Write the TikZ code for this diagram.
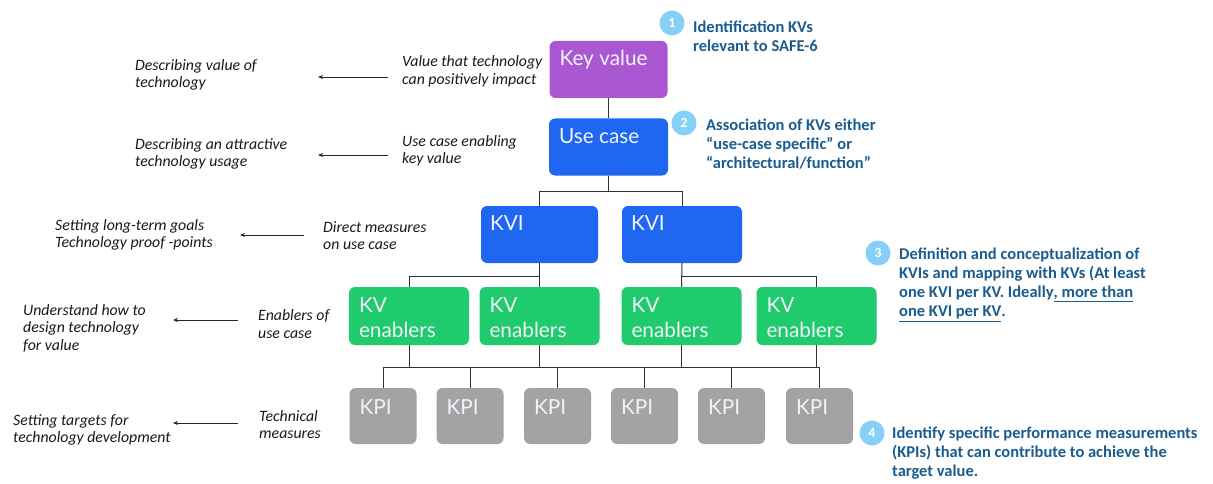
\documentclass[tikz,border=0pt]{standalone}
\usepackage{fontspec}
\setmainfont{Lato}
\newfontfamily\notefont{Carlito}
\usetikzlibrary{arrows.meta}

\definecolor{kvpurple}{HTML}{AA58D2}
\definecolor{ucblue}{HTML}{1F66F0}
\definecolor{engreen}{HTML}{1FCB6C}
\definecolor{kpigray}{HTML}{A3A3A3}
\definecolor{boxtext}{HTML}{F2F2FA}
\definecolor{notetext}{HTML}{1B5C8E}
\definecolor{stepcircle}{HTML}{86D0F7}
\definecolor{linkgray}{HTML}{333333}

\tikzset{
  box/.style={rounded corners=6pt, draw=none, inner sep=0pt},
  boxlabel/.style={anchor=north west, inner sep=0pt, text=boxtext, align=left,
    font=\fontsize{20.8}{25}\selectfont},
  kvbox/.style={box, fill=kvpurple, minimum width=118pt, minimum height=57pt},
  ucbox/.style={box, fill=ucblue, minimum height=57pt},
  enbox/.style={box, fill=engreen, minimum width=120pt, minimum height=58pt},
  kpibox/.style={box, fill=kpigray, minimum width=67pt, minimum height=56pt},
  link/.style={draw=linkgray, line width=1pt},
  sidearrow/.style={draw=black!85, line width=0.8pt, -{Stealth[length=5pt,width=4pt]}},
  sidetext/.style={anchor=west, inner sep=0pt, align=left, text=black!90,
    font=\notefont\itshape\fontsize{15.8}{17.5}\selectfont},
  notetext/.style={anchor=west, inner sep=0pt, align=left, text=notetext,
    font=\notefont\bfseries\fontsize{16.5}{19}\selectfont},
  stepmark/.style={circle, fill=stepcircle, minimum size=25pt, inner sep=0pt,
    text=white, font=\notefont\bfseries\fontsize{14}{14}\selectfont},
}

\begin{document}
\begin{tikzpicture}[x=1pt, y=-1pt]
\useasboundingbox (0,0) rectangle (1213,484);

% hierarchy boxes
\node[kvbox] (kv) at (608.5,69.5) {};
\node[boxlabel] (kvt) at ([xshift=10pt,yshift=-9pt]kv.north west) {Key value};
\node[ucbox, minimum width=119pt] (uc) at (608.5,147) {};
\node[boxlabel] (uct) at ([xshift=10pt,yshift=-10pt]uc.north west) {Use case};

\node[ucbox, minimum width=117pt] (kvi1) at (539.5,234.5) {};
\node[ucbox, minimum width=120pt] (kvi2) at (682,234.5) {};
\node[boxlabel] at ([xshift=9pt,yshift=-10pt]kvi1.north west) {KVI};
\node[boxlabel] at ([xshift=9pt,yshift=-10pt]kvi2.north west) {KVI};

\foreach \n/\x in {e1/409, e2/539.5, e3/681.5, e4/816.5}{
  \node[enbox] (\n) at (\x,316) {};
  \node[boxlabel] at ([xshift=10pt,yshift=-11pt]\n.north west) {KV\\enablers};
}

\foreach \n/\x in {k1/383, k2/470, k3/557.5, k4/644.5, k5/731.5, k6/819.5}{
  \node[kpibox] (\n) at (\x,416) {};
  \node[boxlabel] at ([xshift=10pt,yshift=-12pt]\n.north west) {KPI};
}

% bus lines of the tree
\coordinate (bus1) at (0,191);
\coordinate (bus2) at (0,276);
\coordinate (bus3) at (0,367);

\draw[link] (kv.south) -- (uc.north);
\draw[link] (uc.south) -- (uc.south |- bus1);
\draw[link] (kvi1.north) |- (kvi2.north |- bus1) -- (kvi2.north);

\draw[link] (kvi1.south) -- (e2.north);
\draw[link] (e1.north) |- (kvi1.south |- bus2);
\draw[link] (kvi2.south) -- (e3.north);
\draw[link] (e4.north) |- (kvi2.south |- bus2);

\draw[link] (k1.north) |- (k6.north |- bus3) -- (k6.north);
\foreach \n in {k2,k3,k4,k5}{ \draw[link] (\n.north) -- (\n.north |- bus3); }
\foreach \n in {e1,e2,e3,e4}{ \draw[link] (\n.south) -- (\n.south |- bus3); }

% side descriptions
\node[sidetext] (r1) at (402,71.5) {Value that technology\\can positively impact};
\node[sidetext] (l1) at (135,75) {Describing value of\\technology};
\node[sidetext] (r2) at (402,151) {Use case enabling\\key value};
\node[sidetext] (l2) at (135,154) {Describing an attractive\\technology usage};
\node[sidetext] (r3) at (323,235.5) {Direct measures\\on use case};
\node[sidetext] (l3) at (55,235) {Setting long-term goals\\Technology proof -points};
\node[sidetext] (r4) at (258,324) {Enablers of\\use case};
\node[sidetext] (l4) at (23,328) {Understand how to\\design technology\\for value};
\node[sidetext] (r5) at (259,424.5) {Technical\\measures};
\node[sidetext] (l5) at (13,430) {Setting targets for\\technology development};

\coordinate (a1s) at (388,77);
\coordinate (a1e) at (318,77);
\coordinate (a2s) at (388,155);
\coordinate (a2e) at (318,155);
\coordinate (a3s) at (304,235);
\coordinate (a3e) at (240,235);
\coordinate (a4s) at (238,320);
\coordinate (a4e) at (173,320);
\coordinate (a5s) at (238,423);
\coordinate (a5e) at (173,423);
\foreach \i in {1,...,5}{ \draw[sidearrow] (a\i s) -- (a\i e); }

% numbered steps
\node[stepmark] (s1) at (672,23) {1};
\node[notetext] (n1) at (693,36) {Identification KVs\\relevant to SAFE-6};
\node[stepmark] (s2) at (684,123) {2};
\node[notetext] (n2) at (706,144) {Association of KVs either\\“use-case specific” or\\“architectural/function”};
\node[stepmark] (s3) at (878,253) {3};
\node[notetext] (n3) at (899,284.75) {Definition and conceptualization of\\KVIs and mapping with KVs (At least\\one KVI per KV. Ideally\underline{, more than}\\\underline{one KVI per KV}.};
\node[stepmark] (s4) at (872,433) {4};
\node[notetext] (n4) at (892,453.5) {Identify specific performance measurements\\(KPIs) that can contribute to achieve the\\target value.};
\end{tikzpicture}
\end{document}
